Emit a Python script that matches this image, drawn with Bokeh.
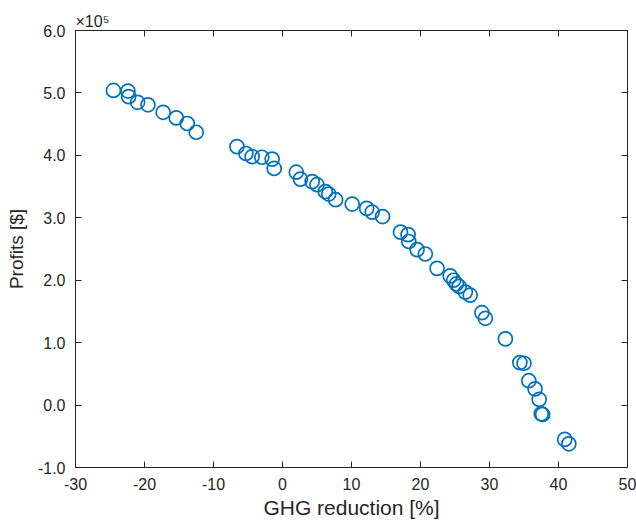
from bokeh.plotting import figure
from bokeh.models import (LinearAxis, FixedTicker, PrintfTickFormatter, Range1d,
                          Title, CustomJSTickFormatter)
from bokeh.embed import file_html
from bokeh.resources import INLINE

# GHG reduction [%]
ghg_reduction = [-24.5, -22.4, -22.3, -21.0, -19.5, -17.3, -15.4, -13.8, -12.5,
                 -6.6, -5.3, -4.4, -3.0, -1.5, -1.2, 2.0, 2.6, 4.3, 5.0, 6.2,
                 6.7, 7.7, 10.1, 12.2, 13.0, 14.5, 17.1, 18.2, 18.3, 19.5,
                 20.7, 22.4, 24.3, 24.8, 25.2, 25.6, 26.5, 27.2, 28.9, 29.4,
                 32.3, 34.4, 35.0, 35.7, 36.6, 37.2, 37.5, 37.7, 40.9, 41.5]
# Profits [$] in units of 1e5
profits_e5 = [5.04, 5.03, 4.94, 4.85, 4.81, 4.69, 4.60, 4.51, 4.37,
              4.14, 4.03, 3.98, 3.97, 3.94, 3.79, 3.73, 3.62, 3.58, 3.53, 3.42,
              3.38, 3.29, 3.22, 3.15, 3.09, 3.02, 2.77, 2.73, 2.62, 2.49,
              2.42, 2.19, 2.07, 2.00, 1.94, 1.90, 1.81, 1.76, 1.48, 1.39,
              1.06, 0.68, 0.67, 0.39, 0.26, 0.09, -0.14, -0.15, -0.55, -0.62]

x_ticks = [-30, -20, -10, 0, 10, 20, 30, 40, 50]
y_ticks = [-1.0, 0.0, 1.0, 2.0, 3.0, 4.0, 5.0, 6.0]

FONT = "Liberation Sans"
AX = "#262626"
BLUE = "#0072BD"

p = figure(width=636, height=523, output_backend="svg",
           toolbar_location=None, x_range=Range1d(-30, 50), y_range=Range1d(-1.0, 6.0),
           min_border_left=75, min_border_top=30, min_border_bottom=56,
           min_border_right=9, x_axis_label="GHG reduction [%]",
           y_axis_label="Profits [$]")
p.grid.visible = False
p.outline_line_color = AX
p.outline_line_width = 1
p.background_fill_color = "white"
p.border_fill_color = "white"

p.scatter(ghg_reduction, profits_e5, marker="circle", size=14, fill_color=None,
          line_color=BLUE, line_width=1.7)

for ax in (p.xaxis[0], p.yaxis[0]):
    ax.axis_line_color = AX
    ax.major_tick_line_color = AX
    ax.major_tick_in = 6
    ax.major_tick_out = 0
    ax.minor_tick_line_color = None
    ax.major_label_text_font = FONT
    ax.major_label_text_font_size = "16px"
    ax.major_label_text_color = AX
    ax.axis_label_text_font = FONT
    ax.axis_label_text_font_style = "normal"
    ax.axis_label_text_color = AX

p.xaxis[0].axis_label_text_font_size = "21px"
p.yaxis[0].axis_label_text_font_size = "19px"

p.xaxis[0].ticker = FixedTicker(ticks=x_ticks)
p.xaxis[0].formatter = PrintfTickFormatter(format="%d")
p.xaxis[0].major_label_standoff = 10
p.xaxis[0].axis_label_standoff = 3
p.yaxis[0].ticker = FixedTicker(ticks=y_ticks)
p.yaxis[0].formatter = PrintfTickFormatter(format="%.1f")
p.yaxis[0].major_label_standoff = 10
p.yaxis[0].axis_label_standoff = 8

blank = CustomJSTickFormatter(code="return ''")
top = LinearAxis(ticker=FixedTicker(ticks=x_ticks), formatter=blank,
                 major_tick_in=6, major_tick_out=0, minor_tick_line_color=None,
                 axis_line_color=AX, major_tick_line_color=AX, major_label_standoff=0)
right = LinearAxis(ticker=FixedTicker(ticks=y_ticks), formatter=blank,
                   major_tick_in=6, major_tick_out=0, minor_tick_line_color=None,
                   axis_line_color=AX, major_tick_line_color=AX, major_label_standoff=0)
p.add_layout(top, "above")
p.add_layout(right, "right")

p.add_layout(Title(text="×10⁵", align="left", offset=0, text_font=FONT,
                   text_font_size="16px", text_font_style="normal",
                   text_color=AX, standoff=2), "above")

open("out.html", "w").write(file_html(p, INLINE))
